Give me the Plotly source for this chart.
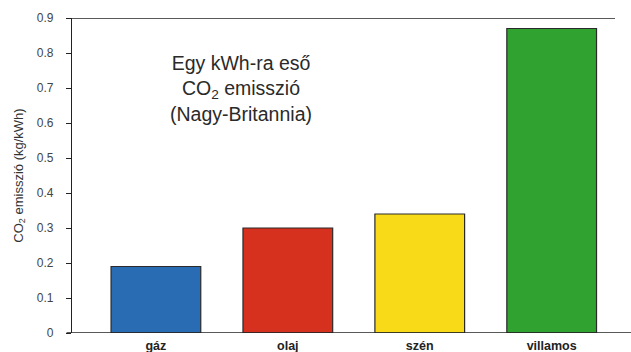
import plotly.graph_objects as go

# CO2 emission per kWh by energy source (UK)
categories = ["gáz", "olaj", "szén", "villamos"]
emissions = [0.19, 0.30, 0.34, 0.87]
bar_colors = ["#2a6cb3", "#d6301f", "#f8da18", "#2fa22f"]
y_ticks = [0, 0.1, 0.2, 0.3, 0.4, 0.5, 0.6, 0.7, 0.8, 0.9]
y_tick_labels = ["0", "0.1", "0.2", "0.3", "0.4", "0.5", "0.6", "0.7", "0.8", "0.9"]

font_family = "Liberation Sans, Arial, sans-serif"

fig = go.Figure(
    go.Bar(
        x=categories,
        y=emissions,
        width=0.68,
        marker=dict(color=bar_colors, line=dict(color="#2a2a2a", width=1.2)),
    )
)

fig.update_layout(
    width=631,
    height=352,
    margin=dict(l=72, r=16, t=18, b=19),
    paper_bgcolor="white",
    plot_bgcolor="white",
    showlegend=False,
    font=dict(family=font_family, color="#333333"),
    xaxis=dict(
        range=[-0.636, 3.48],
        automargin=False,
        showline=False,
        showgrid=False,
        ticks="",
        tickvals=categories,
        ticktext=[f"<b>{c}</b>" for c in categories],
        tickfont=dict(size=12.5, color="#222222", family=font_family),
        ticklabelstandoff=3,
    ),
    yaxis=dict(
        range=[0, 0.9],
        automargin=False,
        tickvals=y_ticks,
        ticktext=y_tick_labels,
        showgrid=False,
        zeroline=False,
        showline=True,
        linecolor="#222222",
        linewidth=1.2,
        ticks="outside",
        ticklen=5,
        tickcolor="#222222",
        tickfont=dict(size=12, color="#444444"),
        ticklabelstandoff=10,
        title=dict(
            text="CO<sub>2</sub> emisszió (kg/kWh)",
            font=dict(size=13, color="#333333"),
            standoff=10,
        ),
    ),
    shapes=[
        # top frame line at 0.9
        dict(type="line", xref="paper", yref="y", x0=-0.01, x1=1.0, y0=0.9, y1=0.9,
             line=dict(color="#222222", width=1.6)),
        # baseline, extending slightly past the plot area
        dict(type="line", xref="paper", yref="y", x0=-0.01, x1=1.03, y0=0, y1=0,
             line=dict(color="#222222", width=1.6)),
    ],
    annotations=[
        dict(
            text="Egy kWh-ra eső<br>CO<sub>2</sub> emisszió<br>(Nagy-Britannia)",
            xref="paper", yref="y", x=0.311, y=0.70, xanchor="center", yanchor="middle",
            showarrow=False, align="center",
            font=dict(size=19.5, color="#2a2a2a", family=font_family),
        )
    ],
)

fig.write_html("out.html")
